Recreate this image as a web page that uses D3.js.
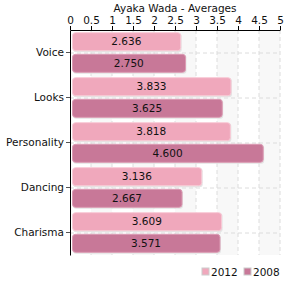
<!DOCTYPE html>
<html>
<head>
<meta charset="utf-8">
<script src="https://cdn.jsdelivr.net/npm/d3@7"></script>
<style>
  body { margin: 0; background: #fff; }
  text { font-family: "DejaVu Sans", Verdana, sans-serif; fill: #111; }
</style>
</head>
<body>
<script>
// chart data
const categories = ["Voice", "Looks", "Personality", "Dancing", "Charisma"];
const series = ["2012", "2008"];
const values2012 = [2.636, 3.833, 3.818, 3.136, 3.609];
const values2008 = [2.750, 3.625, 4.600, 2.667, 3.571];
const xTicks = [0, 0.5, 1, 1.5, 2, 2.5, 3, 3.5, 4, 4.5, 5];
const colors = { "2012": "#f0a8bc", "2008": "#c87898" };
const strokes = { "2012": "#f8cad6", "2008": "#dc9cb4" };

const margins = { left: 70, right: 20, top: 30, bottom: 40 };
const width = 300, height = 295;
const fontSize = "10.5px";

const svg = d3.select("body").append("svg")
    .attr("width", width)
    .attr("height", height);

const x = d3.scaleLinear().domain([0, 5]).range([margins.left, width - margins.right]);
const y = d3.scaleBand().domain(categories).range([margins.top, height - margins.bottom]);
const inner = d3.scaleBand().domain(series).range([0, y.bandwidth()]).paddingInner(0.12).paddingOuter(0.1);

// alternating background stripes
svg.append("g").selectAll("rect")
    .data(xTicks.slice(0, -1).filter((d, i) => i % 2 == 1))
    .enter().append("rect")
    .attr("x", d => x(d))
    .attr("y", margins.top)
    .attr("width", d => x(d + 0.5) - x(d))
    .attr("height", y.range()[1] - margins.top)
    .attr("fill", "#f8f8f8");

// dashed grid
svg.append("g").selectAll("line")
    .data(xTicks.slice(1))
    .enter().append("line")
    .attr("x1", d => x(d)).attr("x2", d => x(d))
    .attr("y1", margins.top).attr("y2", y.range()[1])
    .attr("stroke", "#dcdcdc")
    .attr("stroke-dasharray", "4,3");

svg.append("g").selectAll("line")
    .data(categories)
    .enter().append("line")
    .attr("x1", x(0)).attr("x2", x(5))
    .attr("y1", d => y(d) + y.bandwidth() / 2 + 0.5)
    .attr("y2", d => y(d) + y.bandwidth() / 2 + 0.5)
    .attr("stroke", "#dcdcdc")
    .attr("stroke-dasharray", "4,3");

// bars
const rows = [];
categories.forEach((c, i) => {
    rows.push({ cat: c, s: "2012", v: values2012[i] });
    rows.push({ cat: c, s: "2008", v: values2008[i] });
});

const bars = svg.append("g").selectAll("g")
    .data(rows)
    .enter().append("g");

// shadow
bars.append("rect")
    .attr("x", x(0) + 3)
    .attr("y", d => y(d.cat) + inner(d.s) + 1)
    .attr("width", d => x(d.v) - x(0) - 2)
    .attr("height", inner.bandwidth())
    .attr("rx", 3)
    .attr("fill", "#e4e4e4");

bars.append("rect")
    .attr("x", x(0) + 2.5)
    .attr("y", d => y(d.cat) + inner(d.s) + 0.5)
    .attr("width", d => x(d.v) - x(0) - 2.5)
    .attr("height", inner.bandwidth() - 1)
    .attr("rx", 3)
    .attr("fill", d => colors[d.s])
    .attr("stroke", d => strokes[d.s])
    .attr("stroke-width", 1);

bars.append("text")
    .attr("x", d => (x(0) + 2 + x(d.v)) / 2)
    .attr("y", d => y(d.cat) + inner(d.s) + inner.bandwidth() / 2)
    .attr("dy", "0.36em")
    .attr("text-anchor", "middle")
    .style("font-size", fontSize)
    .text(d => d.v.toFixed(3));

// top axis
const xAxis = svg.append("g")
    .attr("transform", "translate(0," + margins.top + ")")
    .call(d3.axisTop(x).tickValues(xTicks).tickSize(4).tickSizeOuter(0).tickFormat(d3.format("")));
xAxis.select(".domain").attr("stroke", "#000");
xAxis.selectAll(".tick line").attr("stroke", "#000");
xAxis.selectAll("text").style("font-size", fontSize).attr("fill", "#111").attr("y", -6);

// left axis
const yAxis = svg.append("g")
    .attr("transform", "translate(" + margins.left + ",0)")
    .call(d3.axisLeft(y).tickSize(4).tickSizeOuter(0));
yAxis.select(".domain").attr("stroke", "#000");
yAxis.selectAll(".tick line").attr("stroke", "#555");
yAxis.selectAll("text").style("font-size", fontSize).attr("fill", "#111").attr("x", -6);

// title
svg.append("text")
    .attr("x", (x(0) + x(5)) / 2)
    .attr("y", 12)
    .attr("text-anchor", "middle")
    .style("font-size", fontSize)
    .text("Ayaka Wada - Averages");

// legend
const legend = svg.append("g").selectAll("g")
    .data(series)
    .enter().append("g")
    .attr("transform", (d, i) => "translate(" + (202 + i * 42) + ",268)");
legend.append("rect")
    .attr("width", 7).attr("height", 7)
    .attr("fill", d => colors[d])
    .attr("stroke", "#ccc");
legend.append("text")
    .attr("x", 9).attr("y", 4)
    .attr("dy", "0.36em")
    .style("font-size", fontSize)
    .text(d => d);
</script>
</body>
</html>
